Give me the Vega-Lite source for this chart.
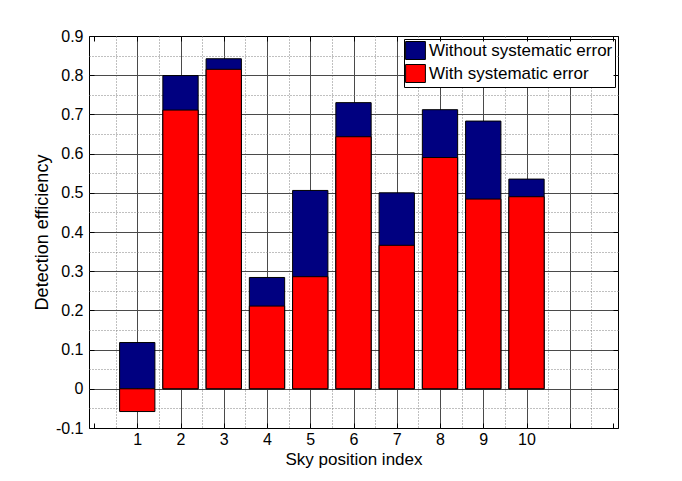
{
  "$schema": "https://vega.github.io/schema/vega-lite/v6.json",
  "width": 529,
  "height": 392,
  "autosize": {"type": "none"},
  "padding": {"left": 89, "top": 36, "right": 64, "bottom": 53},
  "background": "white",
  "config": {
    "font": "Liberation Sans",
    "view": {"stroke": "black", "strokeWidth": 1},
    "axis": {
      "labelFont": "Liberation Sans",
      "labelFontSize": 16,
      "labelColor": "black",
      "titleFont": "Liberation Sans",
      "titleFontSize": 17,
      "titleFontWeight": "normal",
      "titleColor": "black",
      "tickColor": "black",
      "tickWidth": 1,
      "domain": false,
      "labelOverlap": false,
      "labelFlush": false
    },
    "legend": {
      "orient": "top-right",
      "offset": 3,
      "strokeColor": "black",
      "strokeWidth": 1,
      "fillColor": "white",
      "padding": 2,
      "symbolType": "M-1.1,-1H1.1V1H-1.1Z",
      "symbolSize": 324,
      "symbolStrokeColor": "black",
      "symbolStrokeWidth": 1,
      "labelFont": "Liberation Sans",
      "labelFontSize": 17,
      "labelColor": "black",
      "labelOffset": 4,
      "rowPadding": 0,
      "labelLimit": 400
    }
  },
  "data": {
    "values": [
      {"position": 1, "without": 0.118, "with": -0.058},
      {"position": 2, "without": 0.799, "with": 0.711},
      {"position": 3, "without": 0.842, "with": 0.815},
      {"position": 4, "without": 0.284, "with": 0.211},
      {"position": 5, "without": 0.506, "with": 0.286},
      {"position": 6, "without": 0.730, "with": 0.643},
      {"position": 7, "without": 0.500, "with": 0.366},
      {"position": 8, "without": 0.712, "with": 0.590},
      {"position": 9, "without": 0.683, "with": 0.484},
      {"position": 10, "without": 0.535, "with": 0.490}
    ]
  },
  "layer": [
    {
      "mark": {"type": "bar", "size": 35.3, "stroke": "black", "strokeWidth": 1},
      "encoding": {
        "x": {
          "field": "position",
          "type": "quantitative",
          "scale": {"domain": [0, 12], "nice": false, "zero": false},
          "axis": {
            "orient": "bottom",
            "title": "Sky position index",
            "values": [0, 0.5, 1, 1.5, 2, 2.5, 3, 3.5, 4, 4.5, 5, 5.5, 6, 6.5, 7, 7.5, 8, 8.5, 9, 9.5, 10, 10.5, 11, 11.5, 12],
            "grid": true,
            "gridColor": {"condition": {"test": "datum.value % 1 != 0", "value": "#808080"}, "value": "#4a4a4a"},
            "gridDash": {"condition": {"test": "datum.value % 1 != 0", "value": [1, 2]}, "value": []},
            "gridWidth": 1,
            "gridOpacity": {"condition": {"test": "datum.value <= 0 || datum.value >= 12", "value": 0}, "value": 1},
            "offset": -5,
            "tickSize": 5,
            "tickOpacity": {"condition": {"test": "datum.value % 1 != 0", "value": 0}, "value": 1},
            "labelExpr": "datum.value >= 1 && datum.value <= 10 && datum.value % 1 == 0 ? format(datum.value, 'd') : ''",
            "labelPadding": 3,
            "titlePadding": 4
          }
        },
        "y": {
          "field": "without",
          "type": "quantitative",
          "scale": {"domain": [-0.1, 0.9], "nice": false, "zero": false},
          "axis": {
            "orient": "left",
            "title": "Detection efficiency",
            "titleFontSize": 18,
            "values": [-0.1, -0.05, 0, 0.05, 0.1, 0.15, 0.2, 0.25, 0.3, 0.35, 0.4, 0.45, 0.5, 0.55, 0.6, 0.65, 0.7, 0.75, 0.8, 0.85, 0.9],
            "grid": true,
            "gridColor": {"condition": {"test": "abs(round(datum.value * 20)) % 2 == 1", "value": "#808080"}, "value": "#4a4a4a"},
            "gridDash": {"condition": {"test": "abs(round(datum.value * 20)) % 2 == 1", "value": [1, 2]}, "value": []},
            "gridWidth": 1,
            "gridOpacity": {"condition": {"test": "abs(datum.value + 0.1) < 1e-6 || abs(datum.value - 0.9) < 1e-6", "value": 0}, "value": 1},
            "offset": -5,
            "tickSize": 5,
            "tickOpacity": {"condition": {"test": "abs(round(datum.value * 20)) % 2 == 1", "value": 0}, "value": 1},
            "labelExpr": "abs(round(datum.value * 20)) % 2 == 0 ? (abs(datum.value) < 1e-9 ? '0' : replace(format(datum.value, '.1f'), '\u2212', '-')) : ''",
            "labelPadding": 6,
            "titlePadding": 4
          }
        },
        "y2": {"datum": 0},
        "color": {
          "datum": "Without systematic error",
          "scale": {"domain": ["Without systematic error", "With systematic error"], "range": ["#000080", "#ff0000"]},
          "legend": {"title": null}
        }
      }
    },
    {
      "mark": {"type": "bar", "size": 35.3, "stroke": "black", "strokeWidth": 1},
      "encoding": {
        "x": {
          "field": "position",
          "type": "quantitative",
          "axis": {
            "orient": "top",
            "title": null,
            "values": [0, 1, 2, 3, 4, 5, 6, 7, 8, 9, 10, 11, 12],
            "grid": false,
            "labels": false,
            "offset": -5,
            "tickSize": 5,
            "zindex": 1
          }
        },
        "y": {
          "field": "with",
          "type": "quantitative",
          "axis": {
            "orient": "right",
            "title": null,
            "values": [-0.1, 0, 0.1, 0.2, 0.3, 0.4, 0.5, 0.6, 0.7, 0.8, 0.9],
            "grid": false,
            "labels": false,
            "offset": -5,
            "tickSize": 5,
            "zindex": 1
          }
        },
        "y2": {"datum": 0},
        "color": {"datum": "With systematic error"}
      }
    }
  ],
  "resolve": {"axis": {"x": "independent", "y": "independent"}}
}
